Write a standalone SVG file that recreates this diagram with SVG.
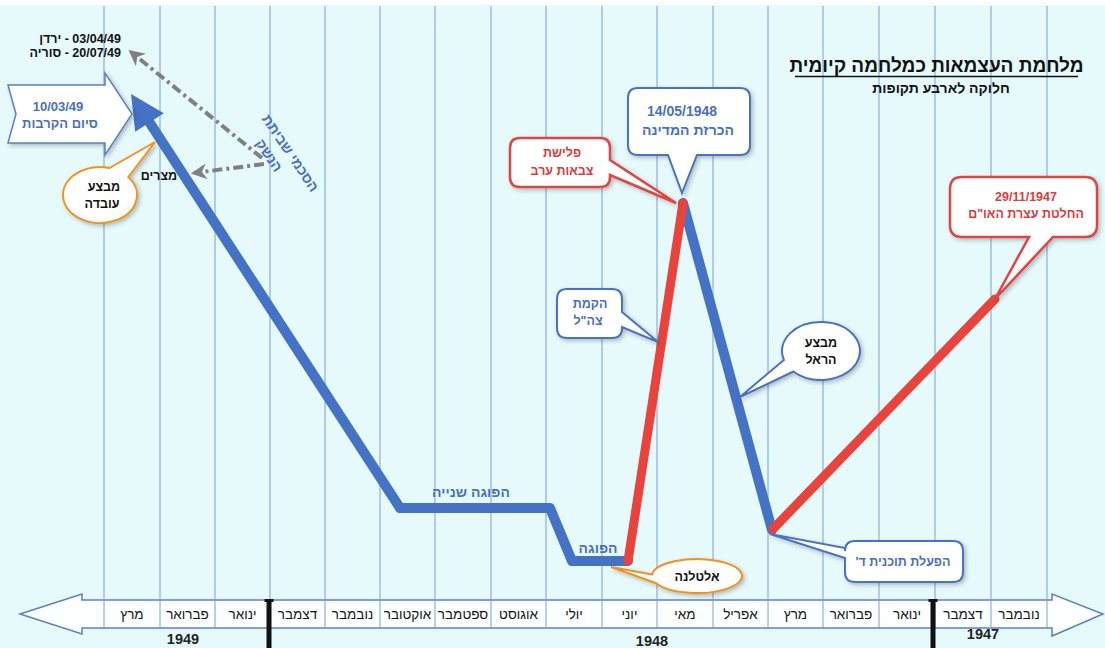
<svg xmlns="http://www.w3.org/2000/svg" width="1105" height="648" viewBox="0 0 1105 648">
<defs>
<style>
.f{font-family:"Liberation Sans","DejaVu Sans",sans-serif}
.grid{stroke:#7f9cd6;stroke-width:1}
.m{font-size:13.5px;fill:#151515;text-anchor:middle}
.bl{fill:#4a6fbf;font-weight:bold}
.rd{fill:#e03a3a;font-weight:bold}
.bk{fill:#111;font-weight:bold}
.cb{fill:#fff;stroke:#4a72c4;stroke-width:2;filter:url(#sh)}
.cr{fill:#fff;stroke:#e04444;stroke-width:2.5;filter:url(#sh)}
.co{fill:#fff;stroke:#f0921e;stroke-width:2;filter:url(#sh)}
.c{text-anchor:middle}
.gray{fill:none;stroke:#808080;stroke-width:4;stroke-dasharray:10 4 3 4}
</style>
<filter id="sh" x="-20%" y="-20%" width="140%" height="140%"><feDropShadow dx="2" dy="2" stdDeviation="2" flood-color="#000" flood-opacity="0.25"/></filter>
<marker id="ga" viewBox="0 0 10 10" refX="8" refY="5" markerWidth="4" markerHeight="4" orient="auto" markerUnits="strokeWidth"><path d="M0,0 L10,5 L0,10 L3,5 Z" fill="#808080"/></marker>
</defs>
<rect width="1105" height="648" fill="#fff"/>
<rect y="5" width="1105" height="643" fill="#e6fafb"/>

<g id="axis">
<polygon points="20,614 82,594 82,600 1052,600 1052,594 1103,614 1052,636 1052,628 82,628 82,634" fill="#fbffff" stroke="#5b7fc7" stroke-width="1.5"/>
</g>

<g id="grid">
<line class="grid" x1="104" y1="6" x2="104" y2="628"/>
<line class="grid" x1="160" y1="6" x2="160" y2="628"/>
<line class="grid" x1="215" y1="6" x2="215" y2="628"/>
<line class="grid" x1="270" y1="6" x2="270" y2="628"/>
<line class="grid" x1="325" y1="6" x2="325" y2="628"/>
<line class="grid" x1="380" y1="6" x2="380" y2="628"/>
<line class="grid" x1="435" y1="6" x2="435" y2="628"/>
<line class="grid" x1="491" y1="6" x2="491" y2="628"/>
<line class="grid" x1="546" y1="6" x2="546" y2="628"/>
<line class="grid" x1="602" y1="6" x2="602" y2="628"/>
<line class="grid" x1="657" y1="6" x2="657" y2="628"/>
<line class="grid" x1="713" y1="6" x2="713" y2="628"/>
<line class="grid" x1="768" y1="6" x2="768" y2="628"/>
<line class="grid" x1="823" y1="6" x2="823" y2="628"/>
<line class="grid" x1="879" y1="6" x2="879" y2="628"/>
<line class="grid" x1="935" y1="6" x2="935" y2="628"/>
<line class="grid" x1="991" y1="6" x2="991" y2="628"/>
<line class="grid" x1="1047" y1="6" x2="1047" y2="628"/>
</g>

<g id="months" class="f">
<text class="m" x="132" y="619">מרץ</text>
<text class="m" x="187.5" y="619">פברואר</text>
<text class="m" x="242.5" y="619">ינואר</text>
<text class="m" x="297.5" y="619">דצמבר</text>
<text class="m" x="352.5" y="619">נובמבר</text>
<text class="m" x="407.5" y="619">אוקטובר</text>
<text class="m" x="463" y="619">ספטמבר</text>
<text class="m" x="518.5" y="619">אוגוסט</text>
<text class="m" x="574" y="619">יולי</text>
<text class="m" x="629.5" y="619">יוני</text>
<text class="m" x="685" y="619">מאי</text>
<text class="m" x="740.5" y="619">אפריל</text>
<text class="m" x="795.5" y="619">מרץ</text>
<text class="m" x="851" y="619">פברואר</text>
<text class="m" x="907" y="619">ינואר</text>
<text class="m" x="963" y="619">דצמבר</text>
<text class="m" x="1019" y="619">נובמבר</text>
</g>

<g id="year-dividers">
<rect x="266.5" y="600" width="5" height="48" fill="#111"/>
<rect x="264.5" y="599" width="9" height="3" fill="#111"/>
<rect x="930.5" y="600" width="5" height="48" fill="#111"/>
<rect x="928.5" y="599" width="9" height="3" fill="#111"/>
</g>

<g id="years" class="f" font-weight="bold" font-size="14.5" fill="#222" text-anchor="middle">
<text x="183" y="644">1949</text>
<text x="652" y="646">1948</text>
<text x="983" y="639">1947</text>
</g>

<g id="title" class="f">
<text x="936.5" y="72" class="c" font-size="19" font-weight="bold" fill="#111">מלחמת העצמאות כמלחמה קיומית</text>
<line x1="795" y1="76.5" x2="1078" y2="76.5" stroke="#111" stroke-width="1.5"/>
<text x="941" y="93" class="c" font-size="14" font-weight="bold" fill="#111">חלוקה לארבע תקופות</text>
</g>

<g id="connectors">
<polyline points="400,508 550,508 572,561 628,561" fill="none" stroke="#4472c4" stroke-width="10" stroke-linejoin="round" stroke-linecap="round"/>
<line x1="400" y1="508" x2="146" y2="117" stroke="#4472c4" stroke-width="10" stroke-linecap="round"/>
<polygon points="131,94 163.8,113.2 135.2,131.8" fill="#4472c4"/>
<line x1="683" y1="203" x2="772" y2="530" stroke="#4472c4" stroke-width="10" stroke-linecap="round"/>
<line x1="628" y1="561" x2="683" y2="203" stroke="#e8433c" stroke-width="9" stroke-linecap="round"/>
<line x1="773" y1="529" x2="995" y2="299" stroke="#e8433c" stroke-width="9" stroke-linecap="round"/>
<line class="gray" x1="262" y1="158" x2="131" y2="52" marker-end="url(#ga)"/>
<line class="gray" x1="264" y1="164" x2="194" y2="173" marker-end="url(#ga)"/>
</g>

<g id="ceasefire-dates" class="f bk" font-size="12.5" text-anchor="end">
<text x="121" y="43">ירדן&#x200E; - 03/04/49</text>
<text x="121" y="57">סוריה&#x200E; - 20/07/49</text>
</g>

<g id="end-of-fighting" class="f">
<polygon points="8,85 105,85 105,73 132,114 105,155 105,143 8,143 16,114" fill="#fff" stroke="#5b7fc7" stroke-width="1.5" filter="url(#sh)"/>
<text x="58" y="111" class="c bl" font-size="13">10/03/49</text>
<text x="60" y="128" class="c bl" font-size="13">סיום הקרבות</text>
</g>

<g id="armistice" class="f">
<g transform="translate(290.5,153) rotate(56)">
<text x="0" y="5" class="c" font-size="14" font-weight="bold" fill="#4a6fbf">הסכמי שביתת</text>
<text x="-10" y="24" class="c" font-size="14" font-weight="bold" fill="#4a6fbf">הנשק</text>
</g>
</g>

<g id="egypt" class="f">
<text x="159" y="180" class="c bk" font-size="12.5">מצרים</text>
</g>

<g id="op-uvda" class="f">
<path class="co" d="M109.6,168 L155,142 L128.3,177 A37,28 0 1,1 109.6,168 Z"/>
<text x="104" y="191" class="c bk" font-size="12.5">מבצע</text>
<text x="102" y="208" class="c bk" font-size="12.5">עובדה</text>
</g>

<g id="independence" class="f">
<path class="cb" d="M638,88 H740 Q750,88 750,98 V145 Q750,155 740,155 H697 L682,193 L668,155 H638 Q628,155 628,145 V98 Q628,88 638,88 Z"/>
<text x="682" y="116" class="c bl" font-size="14">14/05/1948</text>
<text x="688" y="135" class="c bl" font-size="14">הכרזת המדינה</text>
</g>

<g id="invasion" class="f">
<path class="cr" d="M520,138 H600 Q610,138 610,148 V160 L676,203 L610,175 V177 Q610,187 600,187 H520 Q510,187 510,177 V148 Q510,138 520,138 Z"/>
<text x="562" y="157" class="c rd" font-size="12.5">פלישת</text>
<text x="562" y="175" class="c rd" font-size="12.5">צבאות ערב</text>
</g>

<g id="idf" class="f">
<path class="cb" d="M567,289 H612 Q622,289 622,299 V312 L658,342 L622,327 V328 Q622,338 612,338 H567 Q557,338 557,328 V299 Q557,289 567,289 Z"/>
<text x="590" y="308" class="c bl" font-size="12.5">הקמת</text>
<text x="588" y="325" class="c bl" font-size="12.5">צה"ל</text>
</g>

<g id="op-harel" class="f">
<path class="cb" d="M783.9,360 L740,397 L793.4,371.5 A39,29 0 1,0 783.9,360 Z"/>
<text x="821" y="347" class="c bk" font-size="12.5">מבצע</text>
<text x="821" y="364" class="c bk" font-size="12.5">הראל</text>
</g>

<g id="altalena" class="f">
<path class="co" d="M652.2,574.5 L611,567 L656.2,583.2 A45,17 0 1,0 652.2,574.5 Z"/>
<text x="697" y="581" class="c bk" font-size="12.5">אלטלנה</text>
</g>

<g id="plan-d" class="f">
<path class="cb" d="M855,541 H953 Q963,541 963,551 V572 Q963,582 953,582 H855 Q845,582 845,572 V558 L770,534 L845,548 V551 Q845,541 855,541 Z"/>
<text x="903" y="566" class="c bl" font-size="12.5" direction="rtl">הפעלת תוכנית ד'</text>
</g>

<g id="un-resolution" class="f">
<path class="cr" d="M962,177 H1085 Q1097,177 1097,189 V225 Q1097,237 1085,237 H1053 L995,299 L1029,237 H962 Q950,237 950,225 V189 Q950,177 962,177 Z"/>
<text x="1026" y="201" class="c rd" font-size="12.5">29/11/1947</text>
<text x="1026" y="218" class="c rd" font-size="12.5">החלטת עצרת האו"ם</text>
</g>

<g id="truces" class="f">
<text x="471" y="497" class="c bl" font-size="14">הפוגה שנייה</text>
<text x="598" y="553" class="c bl" font-size="14">הפוגה</text>
</g>
</svg>
